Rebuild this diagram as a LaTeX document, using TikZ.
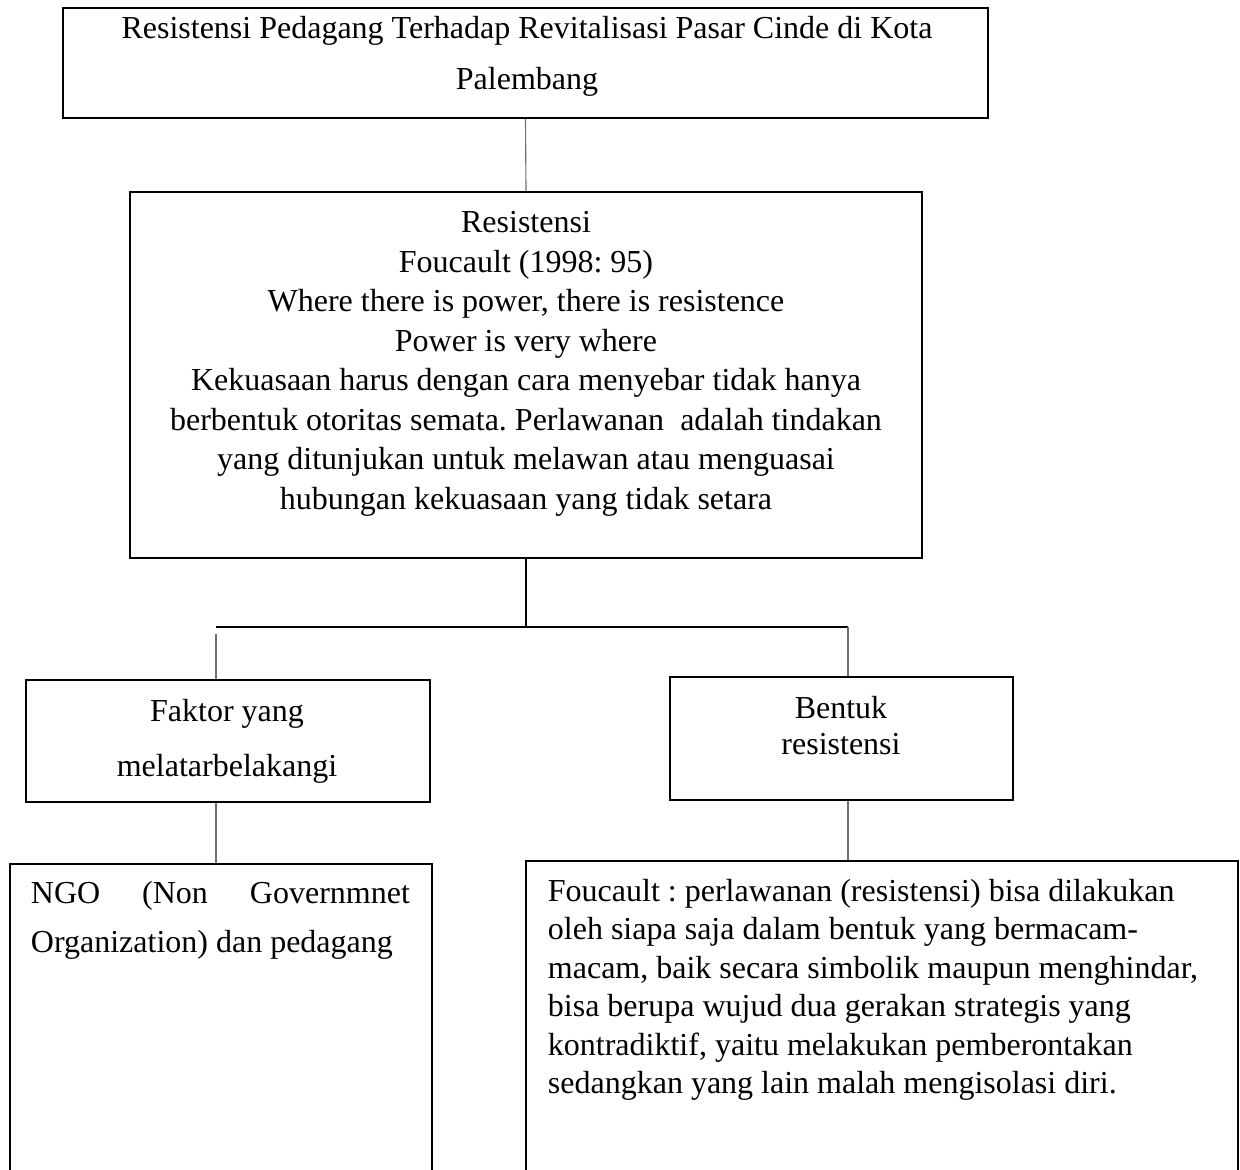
\documentclass[tikz,border=0pt]{standalone}
\usepackage{fontspec}
\setmainfont{Liberation Serif}
\frenchspacing

\tikzset{every picture/.style={line width=0.75pt}}
\tikzset{
  kotak/.style={draw, line width=0.8pt, rectangle, inner sep=0pt},
  teks/.style={inner sep=0pt, anchor=north, align=center},
  garis/.style={line width=0.8pt},
  tipis/.style={line width=0.45pt, draw={rgb, 255:red, 110; green, 110; blue, 110}}
}

\begin{document}
\begin{tikzpicture}[x=0.4pt,y=0.4pt,yscale=-1,xscale=1]
	\useasboundingbox (0,0) rectangle (1240,1169);
	\clip (0,0) rectangle (1240,1169);

	%Shape: Rectangle [judul]
	\node[kotak, minimum width=370pt, minimum height=44pt] (judul) at (525.5,63) {};
	\node[teks, font=\fontsize{12.8}{20.5}\selectfont] (tjudul) at (527,15.5)
	  {Resistensi Pedagang Terhadap Revitalisasi Pasar Cinde di Kota\\ Palembang};

	%Shape: Rectangle [teori]
	\node[kotak, minimum width=316.8pt, minimum height=146.4pt] (teori) at (526,375) {};
	\node[teks, font=\fontsize{12.8}{15.8}\selectfont] (tteori) at (526,210.5)
	  {Resistensi\\ Foucault (1998: 95)\\ Where there is power, there is resistence\\ Power is very where\\
	   Kekuasaan harus dengan cara menyebar tidak hanya\\ berbentuk otoritas semata. Perlawanan\ \ adalah tindakan\\
	   yang ditunjukan untuk melawan atau menguasai\\ hubungan kekuasaan yang tidak setara};

	%Shape: Rectangle [faktor]
	\node[kotak, minimum width=161.6pt, minimum height=48.8pt] (faktor) at (228,741) {};
	\node[teks, font=\fontsize{12.8}{22}\selectfont] (tfaktor) at (227,698.5) {Faktor yang\\ melatarbelakangi};

	%Shape: Rectangle [bentuk]
	\node[kotak, minimum width=137.2pt, minimum height=49.2pt] (bentuk) at (841.5,738.5) {};
	\node[teks, font=\fontsize{12.8}{14.4}\selectfont] (tbentuk) at (841,695.5) {Bentuk\\ resistensi};

	%Shape: Rectangle [ngo]
	\node[kotak, minimum width=168.8pt, minimum height=134.4pt] (ngo) at (221,1032) {};
	\node[teks, anchor=north west, align=justify, text width=151.6pt,
	  font=\fontsize{12.8}{19.6}\selectfont] (tngo) at (30,880.5)
	  {\hyphenpenalty=10000\relax NGO (Non Governmnet\linebreak Organization) dan pedagang};

	%Shape: Rectangle [uraian]
	\node[kotak, minimum width=284.8pt, minimum height=135.6pt] (uraian) at (882,1030.5) {};
	\node[teks, anchor=north west, align=left, font=\fontsize{12.8}{15.4}\selectfont] (turaian) at (547,878)
	  {Foucault : perlawanan (resistensi) bisa dilakukan\\ oleh siapa saja dalam bentuk yang bermacam-\\
	   macam, baik secara simbolik maupun menghindar,\\ bisa berupa wujud dua gerakan strategis yang\\
	   kontradiktif, yaitu melakukan pemberontakan\\ sedangkan yang lain malah mengisolasi diri.};

	%Straight Lines
	\coordinate (simpang) at (526,627);
	\coordinate (kiri) at (216,627);
	\coordinate (kanan) at (848,627);
	\draw[tipis] (judul.south) -- (teori.north);
	\draw[garis] (teori.south) -- (simpang);
	\draw[garis] (kiri) -- (kanan);
	\draw[tipis] (kiri) ++(0,7) -- (kiri |- faktor.north);
	\draw[tipis] (kanan) -- (kanan |- bentuk.north);
	\draw[tipis] (faktor.south -| kiri) -- (ngo.north -| kiri);
	\draw[tipis] (bentuk.south -| kanan) -- (uraian.north -| kanan);
\end{tikzpicture}
\end{document}
